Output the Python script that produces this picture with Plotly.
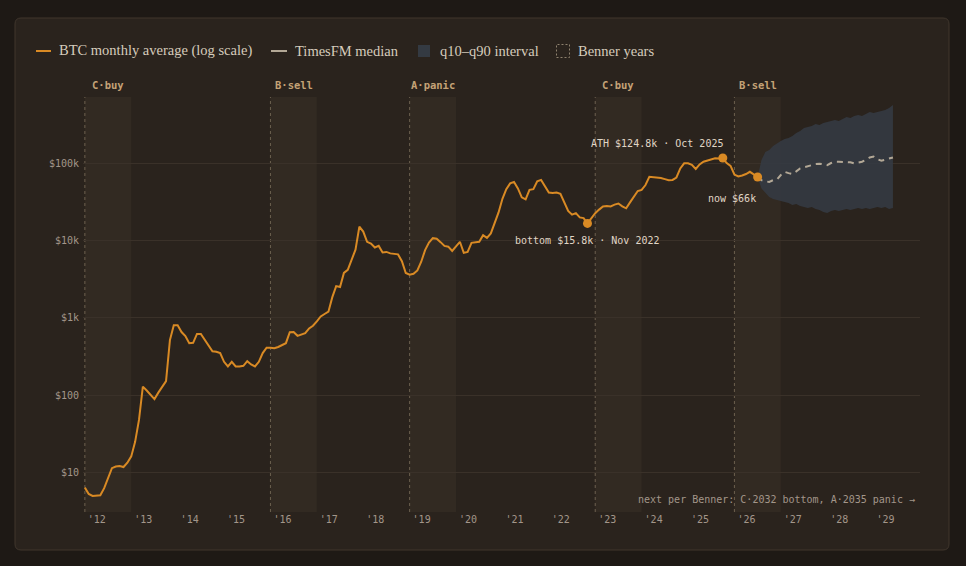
import math
import plotly.graph_objects as go

# ---------------- data ----------------
# BTC monthly average price (USD), one value per month starting Jan 2012
btc_start_year = 2012
btc_avg = [
    6.4, 5.3, 5.0, 5.0, 5.1, 6.3, 8.5, 11.4, 12.0, 12.2, 11.8, 13.4,                      # 2012
    16.2, 25, 48, 129, 115, 102, 89, 108, 127, 152, 515, 800,                              # 2013
    800, 655, 580, 470, 475, 620, 620, 515, 430, 370, 365, 350,                            # 2014
    270, 235, 270, 235, 235, 240, 275, 250, 235, 270, 350, 410,                            # 2015
    410, 405, 420, 440, 470, 650, 655, 585, 605, 635, 730, 790,                            # 2016
    900, 1040, 1120, 1200, 1850, 2570, 2500, 3800, 4160, 5600, 7600, 15100,                # 2017
    13000, 9600, 9100, 8100, 8500, 7000, 7100, 6800, 6700, 6600, 5400, 3800,               # 2018
    3600, 3700, 4100, 5300, 7500, 9400, 10700, 10500, 9500, 8500, 8300, 7300,              # 2019
    8400, 9600, 6900, 7100, 9300, 9500, 9600, 11700, 10800, 12300, 17000, 23000,           # 2020
    34500, 46000, 54500, 57000, 47000, 36000, 34000, 45000, 46000, 58000, 60500, 49000,    # 2021
    41500, 41000, 41500, 40000, 31500, 24000, 21500, 22500, 19800, 19400, 16600, 19500,    # 2022
    22500, 25000, 27500, 27800, 27500, 29000, 30000, 27500, 26000, 31000, 37000, 43500,    # 2023
    45000, 52000, 66500, 66000, 65500, 64000, 62000, 60000, 60500, 65000, 85000, 99000,    # 2024
    99000, 95000, 84000, 96000, 104000, 107000, 112000, 115000, 114000, 116000, 100000, 92000,  # 2025
    71000, 67000, 69000, 72000, 77000, 71000, 66000,                                       # 2026
]

# TimesFM forecast, monthly from the last observed month (thousand USD)
fc_median = [66, 60, 58, 57, 60, 61, 70, 77, 74, 72, 78, 85, 88, 91, 94, 97, 98, 96,
             94, 100, 104, 104, 104, 104, 102, 99, 101, 104, 110, 118, 121, 112, 107, 110, 115, 118]
fc_q10 = [66, 47, 41, 36.5, 34.3, 33, 32.3, 31.4, 30.4, 28.7, 29.6, 27.8, 27, 26.3, 27, 25.5, 24.7, 23.3,
          22.6, 24, 24.7, 24, 24.7, 25.5, 24.7, 25.5, 26.3, 25.5, 26.3, 25.5, 26.3, 27, 26.3, 27, 25.5, 26.3]
fc_q90 = [66, 109, 139, 147, 166, 181, 192, 204, 210, 223, 244, 259, 283, 292, 300, 319, 310, 329,
          339, 349, 360, 349, 370, 393, 381, 405, 417, 405, 430, 457, 442, 457, 470, 484, 514, 561]
fc_unit = 1000

benner_years = [2012, 2016, 2019, 2023, 2026]
benner_labels = ["C·buy", "B·sell", "A·panic", "C·buy", "B·sell"]

x_tick_years = list(range(2012, 2030))
x_tick_text = ["'" + str(y)[2:] for y in x_tick_years]
y_tick_vals = [10, 100, 1000, 10000, 100000]
y_tick_text = ["$10", "$100", "$1k", "$10k", "$100k"]

ath_label = "ATH $124.8k · Oct 2025"
bottom_label = "bottom $15.8k · Nov 2022"
now_label = "now $66k"
next_label = "next per Benner: C·2032 bottom, A·2035 panic →"
bottom_search_from_year = 2021

legend_items = ["BTC monthly average (log scale)", "TimesFM median", "q10–q90 interval", "Benner years"]

# ---------------- styling ----------------
PAGE_BG = "#1e1915"
CARD_BG = "#2a231d"
CARD_BORDER = "#40362d"
BENNER_FILL = "#322a22"
BENNER_LINE = "#6c604f"
GRID = "#3a3129"
ORANGE = "#d98a24"
MEDIAN = "#b3a896"
BAND = "rgba(53,59,68,0.85)"
TICK = "#a3968a"
LABEL = "#e0d6c6"
BENNER_TXT = "#c4a276"
LEGEND_TXT = "#d6ccbc"
MONO = "DejaVu Sans Mono"
SERIF = "Liberation Serif"

W, H = 966, 566
PL, PR, PT, PB = 83, 920, 97, 512


def px(xp):
    return (xp - PL) / (PR - PL)


def py(yp):
    return (PB - yp) / (PB - PT)


btc_x = [btc_start_year + i / 12 for i in range(len(btc_avg))]
now_i = len(btc_avg) - 1
fc_x = [btc_start_year + (now_i + k) / 12 for k in range(len(fc_median))]
fc_med = [v * fc_unit for v in fc_median]
fc_lo = [v * fc_unit for v in fc_q10]
fc_hi = [v * fc_unit for v in fc_q90]

ath_i = max(range(len(btc_avg)), key=lambda i: btc_avg[i])
start_i = (bottom_search_from_year - btc_start_year) * 12
bot_i = min(range(start_i, len(btc_avg)), key=lambda i: btc_avg[i])

fig = go.Figure()

# forecast band
fig.add_trace(go.Scatter(
    x=fc_x + fc_x[::-1], y=fc_hi + fc_lo[::-1], fill="toself", fillcolor=BAND,
    line=dict(width=0), mode="lines", hoverinfo="skip", showlegend=False))
# median
fig.add_trace(go.Scatter(
    x=fc_x, y=fc_med, mode="lines", line=dict(color=MEDIAN, width=2, dash="6px,5px"),
    showlegend=False))
# btc line
fig.add_trace(go.Scatter(
    x=btc_x, y=btc_avg, mode="lines", line=dict(color=ORANGE, width=2), showlegend=False))
# highlighted points
pts = [ath_i, bot_i, now_i]
fig.add_trace(go.Scatter(
    x=[btc_x[i] for i in pts], y=[btc_avg[i] for i in pts], mode="markers",
    marker=dict(color=ORANGE, size=9), showlegend=False))

shapes = []
# card
rx, ry = 6 / (PR - PL), 6 / (PB - PT)
x0, x1, y0, y1 = px(15), px(949), py(550), py(18)
path = (f"M {x0+rx},{y1} L {x1-rx},{y1} Q {x1},{y1} {x1},{y1-ry} L {x1},{y0+ry} "
        f"Q {x1},{y0} {x1-rx},{y0} L {x0+rx},{y0} Q {x0},{y0} {x0},{y0+ry} "
        f"L {x0},{y1-ry} Q {x0},{y1} {x0+rx},{y1} Z")
shapes.append(dict(type="path", path=path, xref="paper", yref="paper",
                   fillcolor=CARD_BG, line=dict(color=CARD_BORDER, width=1), layer="below"))

annotations = []
for yr, lab in zip(benner_years, benner_labels):
    shapes.append(dict(type="rect", xref="x", yref="paper", x0=yr, x1=yr + 1, y0=0, y1=1,
                       fillcolor=BENNER_FILL, line=dict(width=0), layer="below"))
    shapes.append(dict(type="line", xref="x", yref="paper", x0=yr, x1=yr, y0=0, y1=1,
                       line=dict(color=BENNER_LINE, width=1, dash="3px,3px"), layer="below"))
    annotations.append(dict(x=yr + 0.5, y=1, xref="x", yref="paper", text=f"<b>{lab}</b>",
                            showarrow=False, yanchor="middle", yshift=12,
                            font=dict(family=MONO, size=10.5, color=BENNER_TXT)))

# point annotations (log axis -> annotation y in log10 units)
annotations.append(dict(x=btc_x[ath_i], y=math.log10(btc_avg[ath_i]), xref="x", yref="y", text=ath_label,
                        showarrow=False, xanchor="right", yanchor="middle", yshift=15, xshift=2,
                        font=dict(family=MONO, size=10, color=LABEL)))
annotations.append(dict(x=btc_x[bot_i], y=math.log10(btc_avg[bot_i]), xref="x", yref="y", text=bottom_label,
                        showarrow=False, xanchor="center", yanchor="middle", yshift=-17,
                        font=dict(family=MONO, size=10, color=LABEL)))
annotations.append(dict(x=btc_x[now_i], y=math.log10(btc_avg[now_i]), xref="x", yref="y", text=now_label,
                        showarrow=False, xanchor="right", yanchor="middle", yshift=-22,
                        font=dict(family=MONO, size=10, color=LABEL)))
annotations.append(dict(x=px(917), y=py(499), xref="paper", yref="paper", text=next_label,
                        showarrow=False, xanchor="right", yanchor="middle",
                        font=dict(family=MONO, size=10, color=TICK)))

# manual legend
LY = 51
shapes.append(dict(type="line", xref="paper", yref="paper", x0=px(36), x1=px(51), y0=py(LY), y1=py(LY),
                   line=dict(color=ORANGE, width=2)))
shapes.append(dict(type="line", xref="paper", yref="paper", x0=px(271), x1=px(287), y0=py(LY), y1=py(LY),
                   line=dict(color=MEDIAN, width=2)))
shapes.append(dict(type="rect", xref="paper", yref="paper", x0=px(418), x1=px(430), y0=py(57), y1=py(45),
                   fillcolor="#343a42", line=dict(width=0)))
shapes.append(dict(type="rect", xref="paper", yref="paper", x0=px(556.5), x1=px(569.5), y0=py(57.5), y1=py(44.5),
                   fillcolor="rgba(0,0,0,0)", line=dict(color="#8f826f", width=1, dash="2px,2px")))
for xt, txt in zip([57, 293, 438, 576], legend_items):
    annotations.append(dict(x=px(xt), y=py(LY), xref="paper", yref="paper", text=txt, showarrow=False,
                            xanchor="left", yanchor="middle",
                            font=dict(family=SERIF, size=14.5, color=LEGEND_TXT)))

fig.update_layout(
    width=W, height=H, margin=dict(l=PL, r=W - PR, t=PT, b=H - PB),
    paper_bgcolor=PAGE_BG, plot_bgcolor="rgba(0,0,0,0)",
    shapes=shapes, annotations=annotations, showlegend=False,
    xaxis=dict(range=[2011.96, 2030], showgrid=False, zeroline=False, showline=False,
               tickvals=x_tick_years, ticktext=x_tick_text, ticks="", ticklabelshift=12,
               tickfont=dict(family=MONO, size=10, color=TICK)),
    yaxis=dict(type="log", range=[0.491, 5.853], showgrid=True, gridcolor=GRID, gridwidth=1,
               zeroline=False, showline=False, tickvals=y_tick_vals, ticktext=y_tick_text, ticks="",
               ticklabelstandoff=3,
               tickfont=dict(family=MONO, size=10, color=TICK)),
    hovermode=False,
)

fig.write_html("out.html")
